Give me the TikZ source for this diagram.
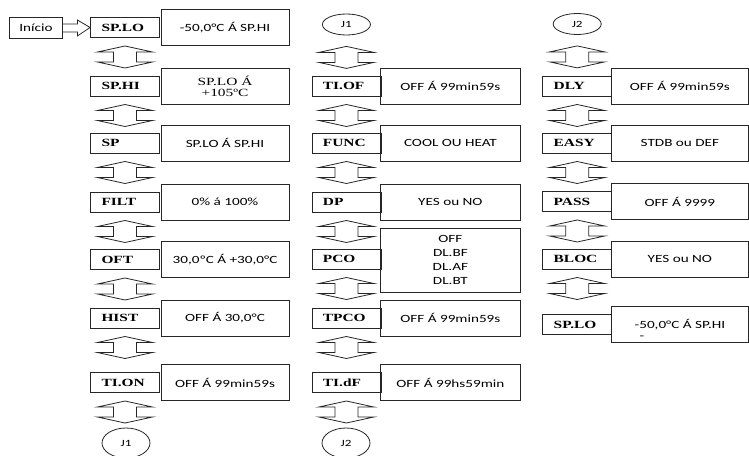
\documentclass[tikz,border=0pt]{standalone}
\usepackage{fontspec}
\setmainfont{Carlito}[FakeStretch=1.38]
\newfontfamily\labfont{Liberation Serif}[FakeStretch=1.4]
\usetikzlibrary{calc,shapes.geometric}

\begin{document}
\begin{tikzpicture}[x=1pt,y=-1pt,
  outl/.style={draw=black!85, line width=.8pt},
  labbox/.style={outl, minimum height=20pt, inner xsep=11pt, inner ysep=0pt, text width=47pt, align=left, font=\labfont\bfseries\fontsize{11}{13}\selectfont},
  valbox/.style={outl, minimum height=36pt, inner sep=0pt, align=center, font=\fontsize{11}{13.7}\selectfont},
  jnode/.style={outl, ellipse, minimum width=48pt, minimum height=21pt, inner sep=0pt, font=\fontsize{9.5}{11}\selectfont},
  updown/.pic={\draw[outl, line join=miter] (0,0)--(27.5,6)--(11.5,6)--(11.5,16)--(27.5,16)--(0,22)--(-27.5,16)--(-11.5,16)--(-11.5,6)--(-27.5,6)--cycle;}]
\clip (0,0) rectangle (749,455);

\node[outl, minimum width=53pt, minimum height=21pt, inner sep=0pt, font=\fontsize{11}{13}\selectfont] (ini) at (36,28) {Início};
\node[labbox] (lo) at (125,27.5) {SP.LO};
\node[valbox, minimum width=128pt] (vlo) at (225,27.5) {-50,0°C Á SP.HI};
\node[labbox] (hi) at (125,86) {SP.HI};
\node[valbox, minimum width=128pt, font=\labfont\fontsize{11}{11}\selectfont] (vhi) at (225,86) {SP.LO Á\\+105ºC};
\node[labbox] (sp) at (125,143) {SP};
\node[valbox, minimum width=128pt] (vsp) at (225,143) {SP.LO Á SP.HI};
\node[labbox] (filt) at (125,202) {FILT};
\node[valbox, minimum width=128pt] (vfilt) at (225,202) {0\% á 100\%};
\node[labbox] (oft) at (125,259.5) {OFT};
\node[valbox, minimum width=128pt] (voft) at (225,259.5) {30,0ºC Á +30,0°C};
\node[labbox] (hist) at (125,318) {HIST};
\node[valbox, minimum width=128pt] (vhist) at (225,318) {OFF Á 30,0°C};
\node[labbox] (tion) at (125,382.5) {TI.ON};
\node[valbox, minimum width=128pt] (vtion) at (225,382.5) {OFF Á 99min59s};
\node[jnode, minimum height=30pt] (jaout) at (126,443) {J1};

\node[jnode] (ja) at (346.4,24.5) {J1};
\node[labbox] (tiof) at (346.4,86) {TI.OF};
\node[valbox, minimum width=139.3pt] (vtiof) at (450.4,86) {OFF Á 99min59s};
\node[labbox] (func) at (346.4,143) {FUNC};
\node[valbox, minimum width=139.3pt] (vfunc) at (450.4,143) {COOL OU HEAT};
\node[labbox] (dp) at (346.4,202) {DP};
\node[valbox, minimum width=139.3pt] (vdp) at (450.4,202) {YES ou NO};
\node[labbox] (pco) at (346.4,259) {PCO};
\node[valbox, minimum width=139.3pt, minimum height=64pt] (vpco) at (450.4,260) {OFF\\DL.BF\\DL.AF\\DL.BT};
\node[labbox] (tpco) at (346.4,318) {TPCO};
\node[valbox, minimum width=139.3pt] (vtpco) at (450.4,318) {OFF Á 99min59s};
\node[labbox] (tidf) at (346.4,382.5) {TI.dF};
\node[valbox, minimum width=139.3pt] (vtidf) at (450.4,382.5) {OFF Á 99hs59min};
\node[jnode, minimum height=30pt] (jbout) at (346,443) {J2};

\node[jnode] (jb) at (577.2,24) {J2};
\node[labbox] (dly) at (577.2,86) {DLY};
\node[valbox, minimum width=136.3pt] (vdly) at (679.9,86) {OFF Á 99min59s};
\node[labbox] (easy) at (577.2,143) {EASY};
\node[valbox, minimum width=136.3pt] (veasy) at (679.9,143) {STDB ou DEF};
\node[labbox] (pass) at (577.2,201.5) {PASS};
\node[valbox, minimum width=136.3pt] (vpass) at (679.9,201.5) {OFF Á 9999};
\node[labbox] (bloc) at (577.2,259) {BLOC};
\node[valbox, minimum width=136.3pt] (vbloc) at (679.9,259) {YES ou NO};
\node[labbox] (lob) at (577.2,324.5) {SP.LO};
\node[valbox, minimum width=136.3pt] (vlob) at (679.9,324.5) {-50,0°C Á SP.HI};
\node[inner sep=0pt, font=\fontsize{11}{13}\selectfont] (dash) at (642,338) {-};

\draw[outl, line join=miter] ($(ini.east)+(0,-4)$) -- ++(14.5,0) -- ++(0,-4) -- (lo.west) -- ($(ini.east)+(14.5,8)$) -- ++(0,-4) -- ($(ini.east)+(0,4)$);

\pic at ($(lo)+(0,18.5)$) {updown};
\pic at ($(hi)+(0,18.5)$) {updown};
\pic at ($(sp)+(0,18.5)$) {updown};
\pic at ($(filt)+(0,18.5)$) {updown};
\pic at ($(oft)+(0,18.5)$) {updown};
\pic at ($(hist)+(0,18.5)$) {updown};
\pic at ($(tion)+(0,18.5)$) {updown};

\pic at ($(ja.south)+(0,11)$) {updown};
\pic at ($(tiof)+(0,18.5)$) {updown};
\pic at ($(func)+(0,18.5)$) {updown};
\pic at ($(dp)+(0,18.5)$) {updown};
\pic at ($(pco)+(0,18.5)$) {updown};
\pic at ($(tpco)+(0,18.5)$) {updown};
\pic at ($(tidf)+(0,18.5)$) {updown};

\pic at ($(jb.south)+(0,11)$) {updown};
\pic at ($(dly)+(0,18.5)$) {updown};
\pic at ($(easy)+(0,18.5)$) {updown};
\pic at ($(pass)+(0,18.5)$) {updown};
\pic at ($(bloc)+(0,18.5)$) {updown};
\end{tikzpicture}
\end{document}
